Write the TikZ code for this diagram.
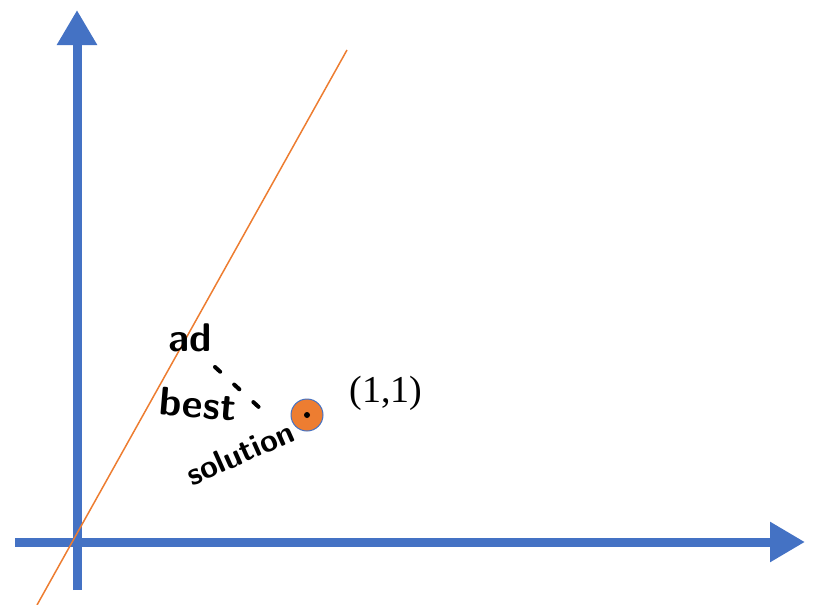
\documentclass[tikz,border=0pt]{standalone}
\usepackage{fontspec}
\setmainfont{Liberation Serif}
\usetikzlibrary{arrows.meta}
\definecolor{axisblue}{HTML}{4472C4}
\definecolor{lineorange}{HTML}{ED7D31}
\tikzset{
  axis/.style={axisblue,line width=9pt,-{Triangle[length=35pt,width=38pt]}},
  scribble/.style={font=\fontsize{40}{40}\selectfont\sffamily\bfseries,inner sep=0pt}
}
\begin{document}
\begin{tikzpicture}[x=1pt,y=-1pt]
  \useasboundingbox (0,0) rectangle (814,605);
  \coordinate (xs) at (15,542);
  \coordinate (xe) at (805,542);
  \coordinate (ys) at (77,590);
  \coordinate (ye) at (77,10);
  \draw[axis] (xs)--(xe);
  \draw[axis] (ys)--(ye);
  \coordinate (la) at (37,605);
  \coordinate (lb) at (347,50);
  \draw[lineorange,line width=1.5pt] (la)--(lb);
  \node[circle,fill=lineorange,draw=axisblue,line width=1pt,minimum size=32pt,inner sep=0pt] (pt) at (307,415) {};
  \fill[black] (pt.center) circle[radius=3pt];
  \node[anchor=west,font=\fontsize{38}{44}\selectfont] (lbl) at (346,393) {(1,1)};
  \coordinate (foot) at (215,367);
  \coordinate (near) at (262,410);
  \draw[black,line width=4pt,dash pattern=on 7pt off 19pt,line cap=round] (foot)--(near);
  \node[scribble] (ad) at (190,338) {ad};
  \node[scribble,rotate=-5] (best) at (198,404) {best};
  \node[scribble,font=\fontsize{32}{32}\selectfont\sffamily\bfseries,rotate=24] (sol) at (240,453) {solution};
\end{tikzpicture}
\end{document}
